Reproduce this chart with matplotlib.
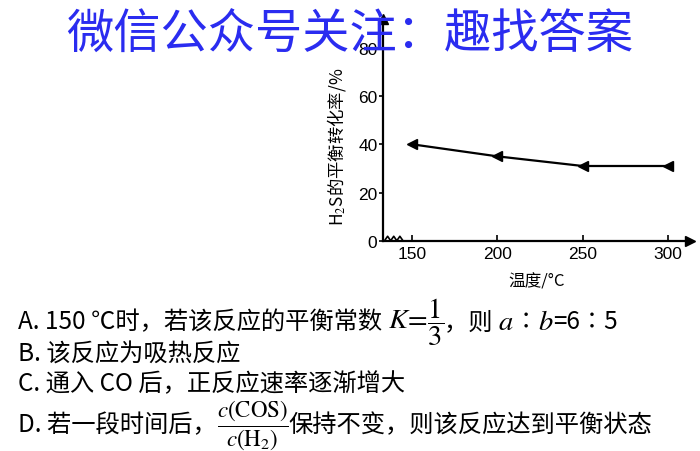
import matplotlib
matplotlib.use("Agg")
import matplotlib.pyplot as plt

# data
temps = [150, 200, 250, 300]
conversion = [40, 35, 31, 31]
x_ticks = [150, 200, 250, 300]
y_ticks = [0, 20, 40, 60, 80]

plt.rcParams["font.family"] = ["Noto Sans CJK SC", "DejaVu Sans"]
plt.rcParams["mathtext.fontset"] = "stix"

W, H = 700, 452
fig = plt.figure(figsize=(W / 100, H / 100), dpi=100)
fig.patch.set_facecolor("white")

ax = fig.add_axes([383 / W, 1 - 241.7 / H, (690 - 383) / W, (241.7 - 20) / H])
ax.plot(temps, conversion, color="black", lw=1.6, marker="<", ms=7, mfc="black")
ax.set_xlim(132.9, 312.9)
ax.set_ylim(0, 92)
ax.set_xticks(x_ticks)
ax.set_yticks(y_ticks)
for s in ("top", "right"):
    ax.spines[s].set_visible(False)
for s in ("left", "bottom"):
    ax.spines[s].set_linewidth(1.6)
ax.tick_params(axis="x", direction="in", length=4, width=1.2, pad=4)
ax.tick_params(axis="y", direction="out", length=3, width=1.2, pad=1)
for lab in ax.get_xticklabels() + ax.get_yticklabels():
    lab.set_family("Liberation Sans")
    lab.set_fontsize(12.5)

# axis arrows
ax.plot(1, 0, ">k", ms=7, transform=ax.transAxes, clip_on=False)
ax.plot(0, 1, "^k", ms=7, transform=ax.transAxes, clip_on=False)
# small break mark near the origin
ax.plot([0.005, 0.015, 0.025, 0.035, 0.045, 0.055, 0.065],
        [0.0, 0.02, 0.0, 0.02, 0.0, 0.02, 0.0],
        color="black", lw=1.2, transform=ax.transAxes, clip_on=False)

ax.set_ylabel("H$_2$S的平衡转化率/%", fontsize=12.5, labelpad=2)
ax.yaxis.set_label_coords(-0.115, 0.43)
ax.set_xlabel("温度/°C", fontsize=12, labelpad=8)

# question text below the chart
renderer = fig.canvas.get_renderer()


def put(parts, x_px, y_px, size=17.5, math_size=20.5):
    x = x_px / W
    y = 1 - y_px / H
    for p in parts:
        fs = math_size if p.startswith("$") else size
        t = fig.text(x, y, p, fontsize=fs, va="center", ha="left", color="black")
        bb = t.get_window_extent(renderer=renderer)
        x += bb.width / W


put(["A. 150 ℃时，若该反应的平衡常数 ", r"$K\!=\!\dfrac{1}{3}$", "，则 ",
     r"$a$", "∶", r"$b$", "=6∶5"], 18, 322)
put(["B. 该反应为吸热反应"], 18, 355)
put(["C. 通入 CO 后，正反应速率逐渐增大"], 18, 384)
put(["D. 若一段时间后，", r"$\dfrac{c(\mathrm{COS})}{c(\mathrm{H_2})}$",
     "保持不变，则该反应达到平衡状态"], 18, 425, math_size=16.5)

# watermark
fig.text(350 / W, 1 - 36 / H, "微信公众号关注：趣找答案", fontsize=34,
         color="#2a2cf0", ha="center", va="center", zorder=10)

fig.savefig("out.png", dpi=100)
